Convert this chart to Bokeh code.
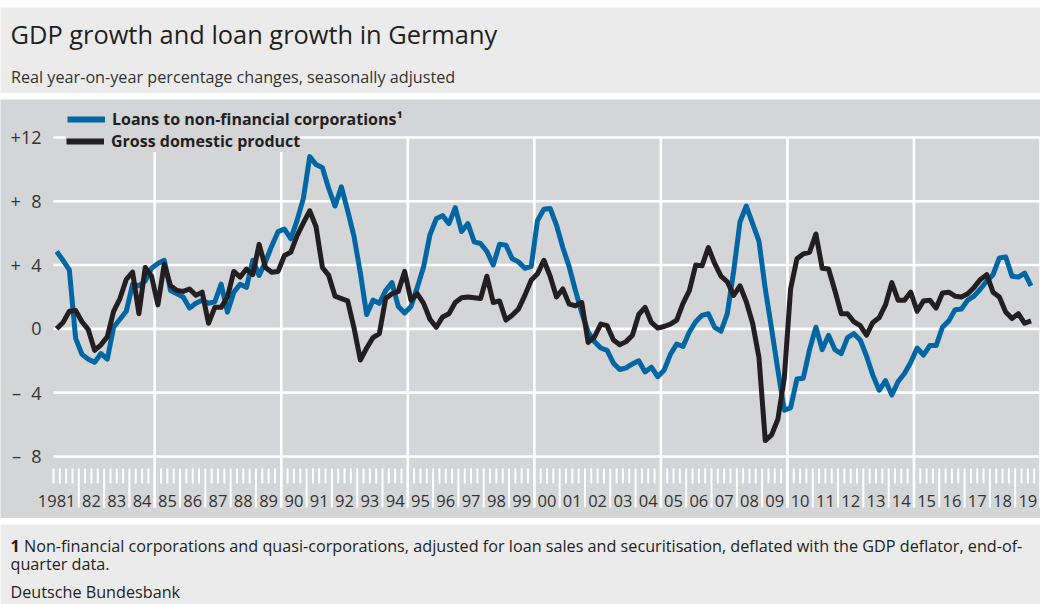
from bokeh.plotting import figure
from bokeh.layouts import column
from bokeh.models import ColumnDataSource, Legend, LegendItem, Range1d, Spacer
from bokeh.core.properties import value
from bokeh.embed import file_html
from bokeh.resources import INLINE

# ---------------- data ----------------
title_text = "GDP growth and loan growth in Germany"
subtitle_text = "Real year-on-year percentage changes, seasonally adjusted"
footnote_num = "1"
footnote_text = ("Non-financial corporations and quasi-corporations, adjusted for loan sales and "
                 "securitisation, deflated with the GDP deflator, end-of-")
footnote_text2 = "quarter data."
source_text = "Deutsche Bundesbank"

series_names = ["Loans to non-financial corporations\u00b9", "Gross domestic product"]

first_quarter = 1981.125   # 1981 Q1 (quarter midpoint)
n_quarters = 155           # 1981 Q1 ... 2019 Q3

loans = [
    4.85, 4.3, 3.7, -0.6, -1.6, -1.9, -2.1, -1.55, -1.9, 0.1,
    0.6, 1.1, 2.8, 2.7, 3.0, 3.8, 4.1, 4.3, 2.4, 2.2,
    2.0, 1.3, 1.6, 1.8, 1.6, 1.7, 2.8, 1.05, 2.3, 2.8,
    2.6, 4.3, 3.35, 4.2, 5.2, 6.1, 6.25, 5.65, 6.8, 8.2,
    10.8, 10.3, 10.1, 8.8, 7.7, 8.9, 7.4, 5.8, 3.5, 0.9,
    1.8, 1.6, 2.4, 2.9, 1.4, 1.0, 1.4, 2.6, 3.9, 5.9,
    6.9, 7.1, 6.6, 7.6, 6.1, 6.6, 5.45, 5.35, 4.85, 4.0,
    5.3, 5.25, 4.4, 4.2, 3.8, 3.9, 6.8, 7.5, 7.55, 6.5,
    5.1, 3.9, 2.4, 1.0, -0.2, -0.8, -1.2, -1.35, -2.15, -2.55,
    -2.45, -2.2, -2.0, -2.7, -2.4, -3.0, -2.6, -1.6, -0.95, -1.1,
    -0.2, 0.45, 0.85, 0.95, 0.1, -0.15, 0.95, 3.6, 6.7, 7.7,
    6.6, 5.5, 2.5, 0.0, -2.6, -5.1, -4.95, -3.15, -3.1, -1.3,
    0.1, -1.3, -0.4, -1.3, -1.55, -0.55, -0.3, -0.7, -1.7, -2.9,
    -3.85, -3.25, -4.15, -3.3, -2.8, -2.1, -1.2, -1.65, -1.05, -1.05,
    0.1, 0.5, 1.2, 1.25, 1.8, 2.05, 2.5, 3.0, 3.4, 4.45,
    4.5, 3.3, 3.25, 3.5, 2.7,
]

gdp = [
    0.0, 0.4, 1.1, 1.15, 0.45, -0.05, -1.35, -1.0, -0.5, 1.1,
    1.9, 3.1, 3.55, 0.95, 3.85, 3.3, 1.5, 4.05, 2.7, 2.4,
    2.35, 2.5, 2.1, 2.3, 0.35, 1.35, 1.35, 2.0, 3.6, 3.25,
    3.75, 3.4, 5.3, 3.85, 3.55, 3.6, 4.6, 4.8, 5.85, 6.65,
    7.4, 6.4, 3.85, 3.35, 2.05, 1.9, 1.75, 0.05, -1.95, -1.2,
    -0.55, -0.3, 1.9, 2.2, 2.35, 3.6, 1.8, 2.2, 1.6, 0.6,
    0.1, 0.75, 0.95, 1.65, 1.95, 2.0, 1.95, 1.9, 3.3, 1.65,
    1.75, 0.55, 0.85, 1.25, 2.1, 3.05, 3.45, 4.3, 3.3, 2.0,
    2.5, 1.55, 1.45, 1.65, -0.85, -0.5, 0.3, 0.2, -0.7, -1.0,
    -0.8, -0.4, 0.9, 1.35, 0.4, 0.05, 0.15, 0.3, 0.55, 1.6,
    2.4, 4.0, 3.95, 5.1, 4.1, 3.3, 2.95, 2.1, 2.7, 1.7,
    0.35, -1.8, -7.0, -6.65, -5.65, -3.1, 2.5, 4.4, 4.7, 4.8,
    5.95, 3.8, 3.75, 2.4, 0.95, 0.95, 0.45, 0.2, -0.4, 0.4,
    0.7, 1.5, 2.9, 1.8, 1.8, 2.3, 1.1, 1.75, 1.8, 1.3,
    2.25, 2.3, 2.05, 2.0, 2.2, 2.6, 3.1, 3.4, 2.3, 2.0,
    1.05, 0.65, 0.95, 0.35, 0.5,
]

year_start = 1981
year_end = 2020
year_labels = ["1981", "82", "83", "84", "85", "86", "87", "88", "89", "90",
               "91", "92", "93", "94", "95", "96", "97", "98", "99", "00",
               "01", "02", "03", "04", "05", "06", "07", "08", "09", "10",
               "11", "12", "13", "14", "15", "16", "17", "18", "19"]

y_ticks = [-8, -4, 0, 4, 8, 12]
y_tick_labels = ["\u2013\u20078", "\u2013\u20074", "0", "+\u20074", "+\u20078", "+12"]

# ---------------- style ----------------
FONT = "Open Sans"
BG = "#d4d5d7"
PANEL = "#ebebec"
BLUE = "#0066a4"
BLACK = "#231f20"
TXT = "#231f20"
LBL = "#333333"
WHITE = "#ffffff"
W = 1040
PX_PER_YEAR = 987 / 39.0     # frame pixels per year
LEFT_PAD = 53                # pixels left of 1981 reserved for y labels

# ---------------- title panel ----------------
TH = 86
ft = figure(width=W, height=TH, x_range=Range1d(0, W), y_range=Range1d(0, TH),
            toolbar_location=None, output_backend="svg",
            x_axis_location=None, y_axis_location=None, min_border=0,
            background_fill_color=PANEL, border_fill_color=PANEL, outline_line_color=None)
ft.grid.visible = False
ft.text(x=[10], y=[TH - 26], text=[title_text], text_font=value(FONT), text_font_size="25.4px",
        text_color=TXT, text_baseline="middle", text_align="left")
ft.text(x=[10.5], y=[TH - 69.5], text=[subtitle_text], text_font=value(FONT), text_font_size="16.2px",
        text_color=LBL, text_baseline="middle", text_align="left")

# ---------------- chart panel ----------------
Y_LO, Y_HI = -11.89, 14.38
x_lo = year_start - LEFT_PAD / PX_PER_YEAR
p = figure(width=W, height=419, x_range=Range1d(x_lo, year_end), y_range=Range1d(Y_LO, Y_HI),
           toolbar_location=None, output_backend="svg", x_axis_location=None, y_axis_location=None,
           min_border=0, background_fill_color=BG, border_fill_color=BG, outline_line_color=None)
p.grid.visible = False

TICK_TOP, TICK_BOT, YEAR_BOT, LABEL_Y = -8.75, -9.69, -11.2, -10.78

# horizontal grid lines
p.segment(x0=[year_start] * len(y_ticks), y0=y_ticks, x1=[year_end] * len(y_ticks), y1=y_ticks,
          line_color=WHITE, line_width=2.6)
# five-year vertical grid lines
five = [y for y in range(year_start, year_end + 1) if y % 5 == 0]
p.segment(x0=five, y0=[12] * len(five), x1=five, y1=[YEAR_BOT] * len(five),
          line_color=WHITE, line_width=2.6)
# quarter ticks
qt = [year_start + 0.25 * i for i in range((year_end - year_start) * 4) if i % 4 != 0 or i == 0]
p.segment(x0=qt, y0=[TICK_TOP] * len(qt), x1=qt, y1=[TICK_BOT] * len(qt),
          line_color=WHITE, line_width=2)
# year boundary lines
yb = list(range(year_start + 1, year_end))
p.segment(x0=yb, y0=[TICK_TOP] * len(yb), x1=yb, y1=[YEAR_BOT] * len(yb),
          line_color=WHITE, line_width=2)

# y tick labels
p.text(x=[year_start - 12 / PX_PER_YEAR] * len(y_ticks), y=y_ticks, text=y_tick_labels,
       text_font=value(FONT), text_font_size="18px", text_color=LBL,
       text_align="right", text_baseline="middle")

# year labels
lab_x = [year_start + i + 0.5 for i in range(1, len(year_labels))]
p.text(x=lab_x, y=[LABEL_Y] * len(lab_x), text=year_labels[1:], text_font=value(FONT),
       text_font_size="16.5px", text_color=LBL, text_align="center", text_baseline="middle")
p.text(x=[year_start + 0.87], y=[LABEL_Y], text=year_labels[:1], text_font=value(FONT),
       text_font_size="16.5px", text_color=LBL, text_align="right", text_baseline="middle")

# series
t = [first_quarter + 0.25 * k for k in range(n_quarters)]
src = ColumnDataSource(dict(t=t, loans=loans, gdp=gdp))
p.line(x="t", y="loans", source=src, line_color=BLUE, line_width=5, line_join="round")
p.line(x="t", y="gdp", source=src, line_color=BLACK, line_width=5, line_join="round")

# legend proxies (single point: draws nothing on the chart itself)
r_leg_loans = p.line(x=t[:1], y=loans[:1], line_color=BLUE, line_width=6)
r_leg_gdp = p.line(x=t[:1], y=gdp[:1], line_color=BLACK, line_width=6)

leg_kw = dict(background_fill_color=BG, background_fill_alpha=1.0, border_line_color=None,
              label_text_font=FONT, label_text_font_size="16px", label_text_font_style="bold",
              label_text_color=TXT, glyph_width=38, glyph_height=20, label_height=20,
              label_standoff=7, spacing=0, margin=0)
leg_gdp = Legend(items=[LegendItem(label=series_names[1], renderers=[r_leg_gdp])],
                 location=(66, 366), padding=5, **leg_kw)
leg_loans = Legend(items=[LegendItem(label=series_names[0], renderers=[r_leg_loans])],
                   location=(67, 388), padding=3, **leg_kw)
p.add_layout(leg_gdp)
p.add_layout(leg_loans)

# ---------------- footnote panel ----------------
FN_H = 80
fn = figure(width=W, height=FN_H, x_range=Range1d(0, W), y_range=Range1d(0, FN_H),
            toolbar_location=None, output_backend="svg",
            x_axis_location=None, y_axis_location=None, min_border=0,
            background_fill_color=PANEL, border_fill_color=PANEL, outline_line_color=None)
fn.grid.visible = False
FS = "16.2px"
fn.text(x=[10], y=[FN_H - 21], text=[footnote_num], text_font=value(FONT), text_font_size=FS,
        text_font_style="bold", text_color=TXT, text_baseline="middle")
fn.text(x=[23.5], y=[FN_H - 21], text=[footnote_text], text_font=value(FONT), text_font_size=FS,
        text_color=TXT, text_baseline="middle")
fn.text(x=[10], y=[FN_H - 39], text=[footnote_text2], text_font=value(FONT), text_font_size=FS,
        text_color=TXT, text_baseline="middle")
fn.text(x=[10], y=[FN_H - 67], text=[source_text], text_font=value(FONT), text_font_size=FS,
        text_color=TXT, text_baseline="middle")

layout = column(Spacer(width=W, height=7), ft, Spacer(width=W, height=6), p,
                Spacer(width=W, height=6), fn)
open("out.html", "w").write(file_html(layout, INLINE))
